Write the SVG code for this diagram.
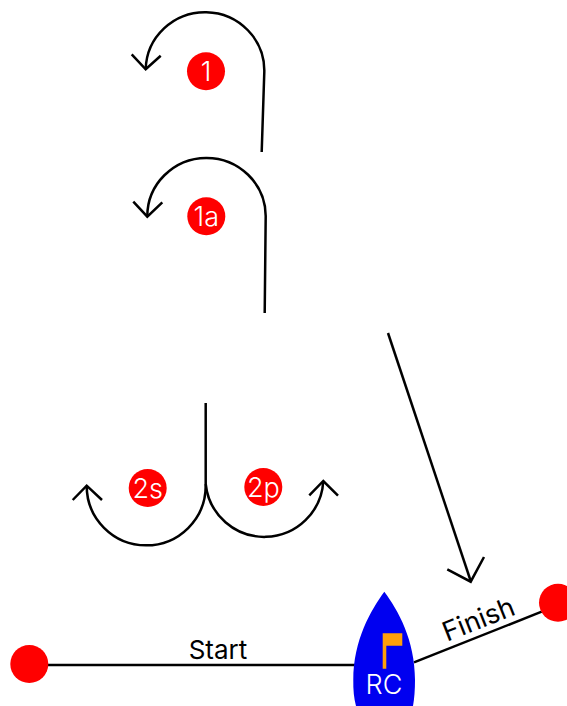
<svg xmlns="http://www.w3.org/2000/svg" width="567" height="706" viewBox="0 0 567 706">
<style>
.c{fill:none;stroke:#000;stroke-width:2.5;stroke-linejoin:miter}
.m{fill:#f00}
.t{font-family:"Inter","Liberation Sans",sans-serif;font-size:27px;text-anchor:middle}
.w{fill:#fff;font-weight:300}
.k{fill:#000;font-weight:400}
</style>
<rect width="567" height="706" fill="#fff"/>
<g id="connectors">
<path class="c" d="M261.7 152L264.3 72A59.3 58.5 0 0 0 145.7 69.3"/>
<path class="c" d="M131.7 54.3L145.7 69.3L160.7 55.7"/>
<path class="c" d="M264.7 313L265.7 216A59.2 58.5 0 0 0 147.3 216.7"/>
<path class="c" d="M133.3 201.7L147.3 216.7L162.3 202.3"/>
<path class="c" d="M205.7 403V486A59.5 59.5 0 0 1 86.7 485.7"/>
<path class="c" d="M72.7 500L86.7 485.7L102 500"/>
<path class="c" d="M205.7 484A59 59 0 0 0 323.3 481"/>
<path class="c" d="M309.3 495.3L323.3 481L338 495.7"/>
<path class="c" d="M388 333L470.7 581"/>
<path class="c" d="M447.3 569.3L470.7 581.7L484 557"/>
<path class="c" d="M48 665H355"/>
<path class="c" d="M414 662.3L541.7 611.7"/>
</g>
<g id="n1"><circle class="m" cx="206" cy="71.3" r="19"/><text class="t w" x="206" y="81">1</text></g>
<g id="n1a"><circle class="m" cx="206.3" cy="216.3" r="19"/><text class="t w" x="206.3" y="226">1a</text></g>
<g id="n2s"><circle class="m" cx="147.7" cy="488" r="19"/><text class="t w" x="147.7" y="498">2s</text></g>
<g id="n2p"><circle class="m" cx="263.3" cy="487" r="19"/><text class="t w" x="263.3" y="497">2p</text></g>
<g id="start-mark"><circle class="m" cx="29.3" cy="664" r="19"/></g>
<g id="finish-mark"><circle class="m" cx="558" cy="602.7" r="19"/></g>
<g id="start-label"><text class="t k" x="218" y="659" style="font-size:26px">Start</text></g>
<g id="finish-label"><text class="t k" transform="translate(482 628) rotate(-21.6)">Finish</text></g>
<g id="rc">
<path fill="#0000f0" d="M384.3 591.7C398 610 415 640 415 680Q415 695 413 706H356Q353 695 353.3 680C353.3 640 371 610 384.3 591.7Z"/>
<path fill="#ff9f0a" d="M382.7 633.3H402.3V645.7H386.3V668.7H382.7Z"/>
<text class="t w" x="384" y="694">RC</text>
</g>
</svg>
